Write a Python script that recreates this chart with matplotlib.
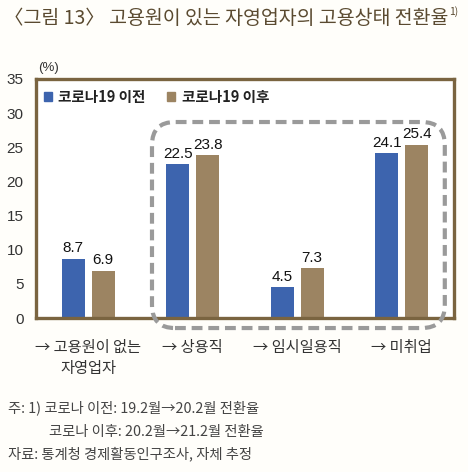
import matplotlib
matplotlib.use("Agg")
import matplotlib.pyplot as plt
from matplotlib.patches import Patch, FancyBboxPatch
import numpy as np

plt.rcParams['font.family'] = ['Noto Sans CJK KR', 'DejaVu Sans']

categories = ["→ 고용원이 없는\n자영업자", "→ 상용직", "→ 임시일용직", "→ 미취업"]
series_names = ["코로나19 이전", "코로나19 이후"]
before = [8.7, 22.5, 4.5, 24.1]
after = [6.9, 23.8, 7.3, 25.4]
yticks = [0, 5, 10, 15, 20, 25, 30, 35]

title = "〈그림 13〉 고용원이 있는 자영업자의 고용상태 전환율"
notes = ["주: 1) 코로나 이전: 19.2월→20.2월 전환율",
         "코로나 이후: 20.2월→21.2월 전환율",
         "자료: 통계청 경제활동인구조사, 자체 추정"]

c_blue = "#3d64ae"
c_tan = "#9c8462"
c_frame = "#7a6440"
c_title = "#5a4a30"

fig = plt.figure(figsize=(4.68, 4.72), dpi=100, facecolor="#fffefa")
ax = fig.add_axes([36/468, 1-318/472, 418/468, 239/472])
ax.set_facecolor("white")

x = np.arange(len(categories))
w = 0.22
off = 0.143
ax.bar(x - off, before, w, color=c_blue, zorder=3)
ax.bar(x + off, after, w, color=c_tan, zorder=3)

for xi, v in zip(x - off, before):
    ax.text(xi, v + 0.5, f"{v}", ha="center", va="bottom", fontsize=11,
            family="Liberation Sans", color="#111111", zorder=4)
for xi, v in zip(x + off, after):
    ax.text(xi, v + 0.5, f"{v}", ha="center", va="bottom", fontsize=11,
            family="Liberation Sans", color="#111111", zorder=4)

ax.set_xlim(-0.5, len(categories) - 0.5)
ax.set_ylim(0, 35)
ax.set_yticks(yticks)
ax.set_yticklabels([str(t) for t in yticks], family="Liberation Sans", fontsize=11, color="#333333")
ax.set_xticks(x)
ax.set_xticklabels(categories, fontsize=11, color="#333333", linespacing=1.3)
ax.tick_params(axis="both", length=0)
ax.tick_params(axis="y", pad=9)
ax.tick_params(axis="x", pad=15)

for s in ax.spines.values():
    s.set_color(c_frame)
    s.set_linewidth(2.4)
    s.set_zorder(5)

handles = [Patch(color=c_blue, label=series_names[0]), Patch(color=c_tan, label=series_names[1])]
leg = ax.legend(handles=handles, loc="center left", bbox_to_anchor=(0.018, 0.925), ncol=2,
                frameon=False, borderpad=0, borderaxespad=0, handlelength=0.55, handleheight=0.55,
                handletextpad=0.45, columnspacing=1.5, prop={"size": 10.5, "weight": "bold"})
for t in leg.get_texts():
    t.set_color("#222222")

box = FancyBboxPatch((0.2775, -0.042), 0.978 - 0.2775, 0.82 + 0.042,
                     boxstyle="round,pad=0,rounding_size=0.055",
                     transform=ax.transAxes, mutation_aspect=418/239,
                     fill=False, edgecolor="#9a9a9a", linewidth=3.0,
                     linestyle=(0, (2.6, 1.4)), clip_on=False, zorder=6)
ax.add_patch(box)

ax.text(0.005, 1.02, "(%)", transform=ax.transAxes, fontsize=9.5, color="#333333",
        family="Liberation Sans", ha="left", va="bottom")

tt = fig.text(4/468, 1-18/472, title, fontsize=14, color=c_title, ha="left", va="center")
fig.canvas.draw()
bb = tt.get_window_extent(renderer=fig.canvas.get_renderer())
fig.text((bb.x1 + 1) / fig.bbox.width, 1-12/472, "1)", fontsize=7.5, color=c_title,
         ha="left", va="center")

fig.text(8/468, 1-408/472, notes[0], fontsize=10.3, color="#444444", ha="left", va="center")
fig.text(49/468, 1-432/472, notes[1], fontsize=10.3, color="#444444", ha="left", va="center")
fig.text(8/468, 1-454/472, notes[2], fontsize=10.3, color="#444444", ha="left", va="center")

fig.savefig("out.png", dpi=100, facecolor=fig.get_facecolor())
